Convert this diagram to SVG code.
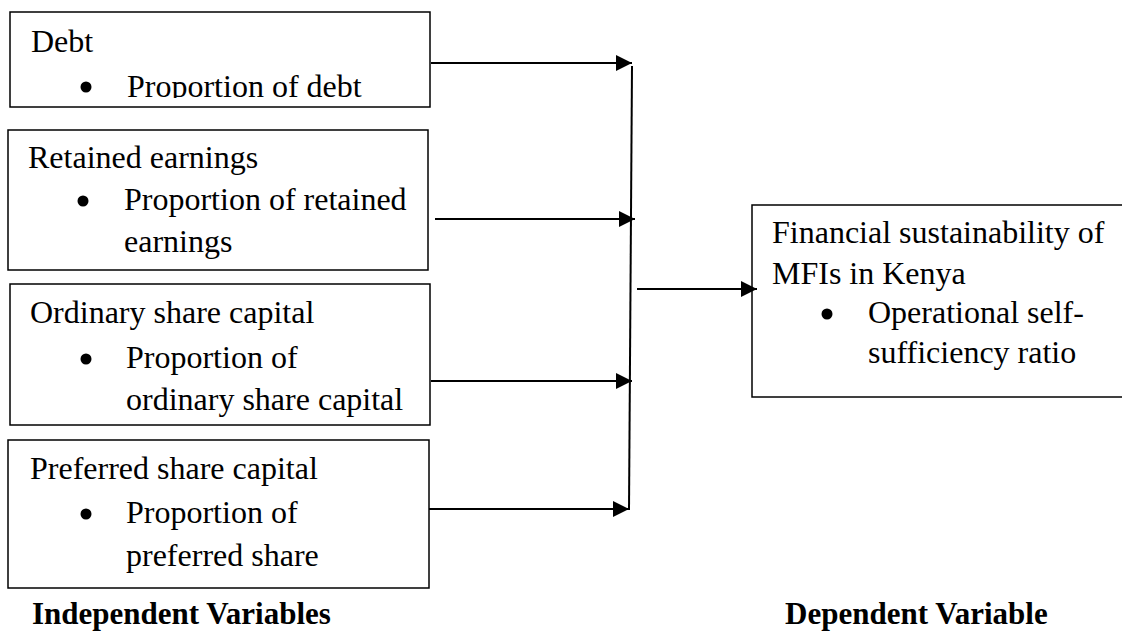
<svg xmlns="http://www.w3.org/2000/svg" width="1122" height="632" viewBox="0 0 1122 632">
<style>
.box{fill:#fff;stroke:#000;stroke-width:1.5}
.t{font-family:"Liberation Serif","Times New Roman",serif;font-size:32px;fill:#000}
.b{font-family:"Liberation Serif","Times New Roman",serif;font-size:31px;font-weight:bold;fill:#000}
.ln{stroke:#000;stroke-width:2;fill:none}
</style>
<defs>
<marker id="ah" markerUnits="userSpaceOnUse" markerWidth="17" markerHeight="17" viewBox="0 0 17 17" refX="16" refY="8.5" orient="auto">
<path d="M0,0.5 L16,8.5 L0,16.5 Z" fill="#000"/>
</marker>
<clipPath id="c1"><rect x="10" y="12" width="420" height="86"/></clipPath>
<clipPath id="c2"><rect x="8" y="130" width="420" height="130"/></clipPath>
</defs>
<g id="n1">
<rect class="box" x="10" y="12" width="420" height="95"/>
<g clip-path="url(#c1)">
<text class="t" x="31" y="52">Debt</text>
<circle cx="86" cy="87" r="5.5"/>
<text class="t" x="127" y="97">Proportion of debt</text>
</g>
</g>
<g id="n2">
<rect class="box" x="8" y="130" width="420" height="140"/>
<g clip-path="url(#c2)">
<text class="t" x="28" y="168">Retained earnings</text>
<circle cx="83" cy="201" r="5.5"/>
<text class="t" x="124" y="210">Proportion of retained</text>
<text class="t" x="124" y="252">earnings</text>
</g>
</g>
<g id="n3">
<rect class="box" x="10" y="284" width="420" height="141"/>
<text class="t" x="30" y="323">Ordinary share capital</text>
<circle cx="86" cy="359" r="5.5"/>
<text class="t" x="126" y="368">Proportion of</text>
<text class="t" x="126" y="410">ordinary share capital</text>
</g>
<g id="n4">
<rect class="box" x="8" y="440" width="421" height="148"/>
<text class="t" x="30" y="479">Preferred share capital</text>
<circle cx="86" cy="514" r="5.5"/>
<text class="t" x="126" y="523">Proportion of</text>
<text class="t" x="126" y="566">preferred share</text>
</g>
<g id="n5">
<rect class="box" x="752" y="205" width="380" height="192"/>
<text class="t" x="772" y="243">Financial sustainability of</text>
<text class="t" x="772" y="284">MFIs in Kenya</text>
<circle cx="827" cy="314" r="5.5"/>
<text class="t" x="868" y="323">Operational self-</text>
<text class="t" x="868" y="363">sufficiency ratio</text>
</g>
<g id="labels">
<text class="b" x="32" y="624">Independent Variables</text>
<text class="b" x="785" y="624">Dependent Variable</text>
</g>
<g id="connectors">
<line class="ln" x1="431" y1="63" x2="632" y2="63" marker-end="url(#ah)"/>
<line class="ln" x1="435" y1="219" x2="635" y2="219" marker-end="url(#ah)"/>
<line class="ln" x1="431" y1="381" x2="632" y2="381" marker-end="url(#ah)"/>
<line class="ln" x1="429" y1="509" x2="629" y2="509" marker-end="url(#ah)"/>
<line class="ln" x1="632" y1="66" x2="629" y2="510"/>
<line class="ln" x1="637" y1="289" x2="757" y2="289" marker-end="url(#ah)"/>
</g>
</svg>
